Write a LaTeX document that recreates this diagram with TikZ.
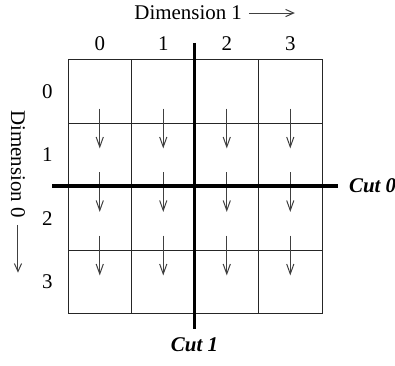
\documentclass[tikz,border=0pt]{standalone}
\usepackage{fontspec}
\setmainfont{Liberation Serif}
\usetikzlibrary{arrows.meta, positioning}
\tikzset{
  cellbox/.style={
    draw=black!85, line width=0.5pt,
    minimum size=1.12cm, inner sep=0pt, anchor=north west,
  },
  lbl/.style={font=\fontsize{10.5}{12.6}\selectfont},
  cutlbl/.style={font=\fontsize{10.5}{12.6}\selectfont\bfseries\itshape},
  cutline/.style={line width=1.6pt, black},
  flowarr/.style={-{Straight Barb[length=5pt, width=3.6pt]}, line width=0.5pt, black!75},
  dimarr/.style={-{Straight Barb[length=4pt, width=3.6pt]}, line width=0.5pt, black!75},
}

\begin{document}
\begin{tikzpicture}[x=1.12cm, y=-1.12cm]
\useasboundingbox (-1.063,-0.929) rectangle (5.157,4.819);

% --- 4x4 grid of cells ---
\foreach \r in {0,...,3} {
  \foreach \c in {0,...,3} {
    \node[cellbox] (cell-\r-\c) at (\c,\r) {};
  }
}

% --- Column / row indices ---
\foreach \c in {0,...,3} {
  \node[lbl, above=0.5pt of cell-0-\c] (col\c) {\c};
}
\foreach \r in {0,...,3} {
  \node[lbl, left=4pt of cell-\r-0] (row\r) {\r};
}

% --- Arrows across the row boundaries ---
\foreach \r in {0,1,2} {
  \foreach \c in {0,...,3} {
    \draw[flowarr] ([yshift=7.5pt]cell-\r-\c.south) -- ([yshift=-12.5pt]cell-\r-\c.south);
  }
}

% --- Dimension labels ---
\node[lbl] (dim1) at (1.9,-0.724) {Dimension 1};
\coordinate (dim1tip) at ([xshift=23pt]dim1.east);
\draw[dimarr] (dim1.east) -- (dim1tip);

\node[lbl, rotate=-90] (dim0) at (-0.78,1.654) {Dimension 0};
\coordinate (dim0tip) at ([yshift=-24pt]dim0.east);
\draw[dimarr] (dim0.east) -- (dim0tip);

% --- Cuts ---
\coordinate (cut0l) at (-0.244,2);
\coordinate (cut0r) at (4.26,2);
\coordinate (cut1t) at (2,-0.252);
\coordinate (cut1b) at (2,4.25);
\draw[cutline] (cut0l) -- (cut0r);
\draw[cutline] (cut1t) -- (cut1b);
\node[cutlbl, right=2pt of cut0r] (cut0) {Cut 0};
\node[cutlbl, below=1pt of cut1b] (cut1) {Cut 1};

\end{tikzpicture}
\end{document}
